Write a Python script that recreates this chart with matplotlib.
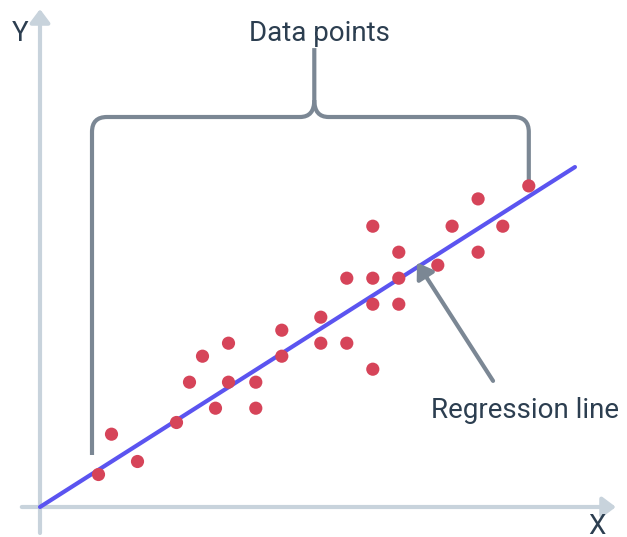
import numpy as np
import matplotlib
matplotlib.use("Agg")
import matplotlib.pyplot as plt
from matplotlib.path import Path
from matplotlib.patches import PathPatch

plt.rcParams['font.family'] = ['Roboto', 'DejaVu Sans']

# data points (1 unit = one grid step)
x_pts = [4.5, 5.5, 7.5, 10.5, 11.5, 12.5, 13.5, 14.5, 14.5, 16.6, 16.6, 18.6, 18.6,
         21.6, 21.6, 23.6, 23.6, 25.6, 25.6, 25.6, 25.6, 27.6, 27.6, 27.6,
         30.6, 31.7, 33.7, 33.7, 35.6, 37.6]
y_pts = [2.5, 5.6, 3.5, 6.5, 9.6, 11.6, 7.6, 12.6, 9.6, 9.6, 7.6, 13.6, 11.6,
         14.6, 12.6, 17.6, 12.6, 21.6, 17.6, 15.6, 10.6, 19.6, 17.6, 15.6,
         18.6, 21.6, 19.6, 23.7, 21.6, 24.7]

# regression line end points
reg_x = [0.0, 41.15]
reg_y = [0.0, 26.15]

TEXT = '#2c3e50'
GRAY = '#7b8794'
AXIS = '#c8d3dc'
DOT = '#d64459'
LINE = '#5b54f0'

fig = plt.figure(figsize=(6.27, 5.37), dpi=100)
ax = fig.add_axes([0, 0, 1, 1])
ax.set_xlim(-40 / 13, 587 / 13)
ax.set_ylim(-30 / 13, 507 / 13)
ax.axis('off')

# axes with arrows
ax.annotate('', xy=(0, 38.3), xytext=(0, -2.0),
            arrowprops=dict(arrowstyle='-|>,head_length=0.4,head_width=0.3',
                            color=AXIS, lw=3, mutation_scale=20,
                            shrinkA=0, shrinkB=0))
ax.annotate('', xy=(44.3, 0), xytext=(-1.4, 0),
            arrowprops=dict(arrowstyle='-|>,head_length=0.4,head_width=0.3',
                            color=AXIS, lw=3, mutation_scale=20,
                            shrinkA=0, shrinkB=0))

# bracket
r = 1.15
xl, xr, xs = 4.0, 37.6, 21.1
yt = 30.0
cw, cy = 1.1, 31.3
left = Path([(xl, 4.0), (xl, yt - r), (xl, yt), (xl + r, yt), (xs - cw, yt),
             (xs, yt), (xs, cy), (xs, 35.3)],
            [Path.MOVETO, Path.LINETO, Path.CURVE3, Path.CURVE3, Path.LINETO,
             Path.CURVE3, Path.CURVE3, Path.LINETO])
right = Path([(xs, cy), (xs, yt), (xs + cw, yt), (xr - r, yt), (xr, yt),
              (xr, yt - r), (xr, 24.9)],
             [Path.MOVETO, Path.CURVE3, Path.CURVE3, Path.LINETO, Path.CURVE3,
              Path.CURVE3, Path.LINETO])
for p in (left, right):
    ax.add_patch(PathPatch(p, fill=False, edgecolor=GRAY, lw=3,
                           capstyle='butt', joinstyle='round', zorder=2))

# regression line and points
ax.plot(reg_x, reg_y, color=LINE, lw=3, solid_capstyle='round', zorder=3)
ax.scatter(x_pts, y_pts, s=90, color=DOT, edgecolors='none', zorder=4)

# regression arrow
ax.annotate('', xy=(29.0, 18.8), xytext=(34.85, 9.7),
            arrowprops=dict(arrowstyle='-|>,head_length=0.45,head_width=0.3',
                            color=GRAY, lw=3, mutation_scale=20,
                            shrinkA=0, shrinkB=0), zorder=5)

# labels
ax.text(21.5, 35.85, 'Data points', fontsize=20, color=TEXT,
        ha='center', va='baseline')
ax.text(30.1, 6.85, 'Regression line', fontsize=20, color=TEXT,
        ha='left', va='baseline')
ax.text(-1.54, 35.85, 'Y', fontsize=20, color=TEXT, ha='center', va='baseline')
ax.text(42.85, -2.1, 'X', fontsize=20, color=TEXT, ha='center', va='baseline')

fig.savefig('out.png', dpi=100)
